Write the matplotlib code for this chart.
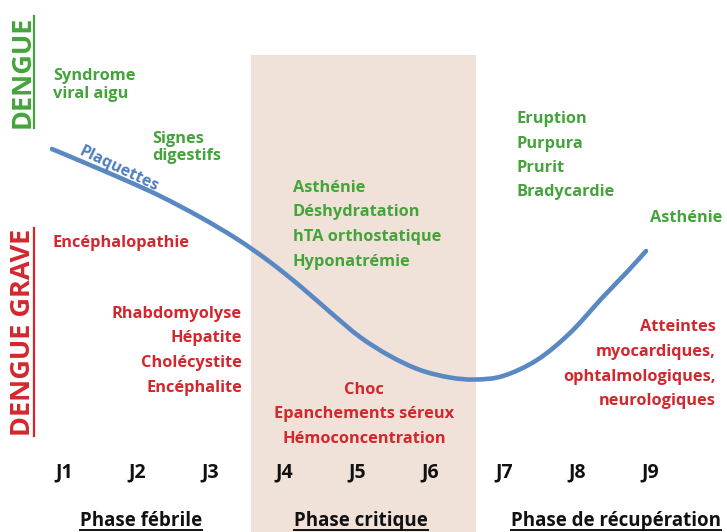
import matplotlib
matplotlib.use("Agg")
import matplotlib.pyplot as plt
from matplotlib.patches import Rectangle, PathPatch
from matplotlib.path import Path

# ---------------- data ----------------
# platelet curve (day, relative level)
days = [0.836, 1.355, 1.832, 2.310, 2.855, 3.360, 3.810, 4.220, 4.629, 5.038,
        5.448, 5.857, 6.266, 6.607, 6.989, 7.453, 7.903, 8.353, 8.681, 8.940]
platelets = [383, 367, 352, 336, 315, 293, 270, 246, 220, 195,
             176, 162, 154.5, 152.5, 156, 172, 199, 235, 260, 281]

day_labels = ["J1", "J2", "J3", "J4", "J5", "J6", "J7", "J8", "J9"]
day_positions = [1, 2, 3, 4, 5, 6, 7, 8, 9]

phase_labels = ["Phase fébrile", "Phase critique", "Phase de récupération"]
phase_centers = [2.05, 5.05, 8.53]
critical_start, critical_end = 3.55, 6.62

green_lists = [
    (["Syndrome", "viral aigu"], "left"),
    (["Signes", "digestifs"], "left"),
    (["Asthénie", "Déshydratation", "hTA orthostatique", "Hyponatrémie"], "left"),
    (["Eruption", "Purpura", "Prurit", "Bradycardie"], "left"),
    (["Asthénie"], "right"),
]
red_lists = [
    (["Encéphalopathie"], "left"),
    (["Rhabdomyolyse", "Hépatite", "Cholécystite", "Encéphalite"], "right"),
    (["Choc", "Epanchements séreux", "Hémoconcentration"], "center"),
    (["Atteintes", "myocardiques,", "ophtalmologiques,", "neurologiques"], "right"),
]

# ---------------- style ----------------
GREEN = "#44a43b"
RED = "#d3272e"
BLUE = "#5a88c2"
SHADE = "#f0e2d8"
FONT = "Open Sans"

W, H = 727, 532
fig = plt.figure(figsize=(W / 100, H / 100), dpi=100)
ax = fig.add_axes([0, 0, 1, 1])
PX_PER_DAY = 73.3
X0 = 64
ax.set_xlim(1 - X0 / PX_PER_DAY, 1 + (W - X0) / PX_PER_DAY)
ax.set_ylim(0, H)
ax.axis("off")


def X(px):
    return 1 + (px - X0) / PX_PER_DAY


def Y(py):
    return H - py


# shaded critical phase
ax.add_patch(Rectangle((critical_start, 0), critical_end - critical_start, Y(55),
                       facecolor=SHADE, edgecolor="none", zorder=0))

# platelet curve: smooth path (Catmull-Rom as cubic Bezier) through the points
verts = [(days[0], platelets[0])]
codes = [Path.MOVETO]
n = len(days)
for i in range(n - 1):
    p0 = (days[max(i - 1, 0)], platelets[max(i - 1, 0)])
    p1 = (days[i], platelets[i])
    p2 = (days[i + 1], platelets[i + 1])
    p3 = (days[min(i + 2, n - 1)], platelets[min(i + 2, n - 1)])
    c1 = (p1[0] + (p2[0] - p0[0]) / 6, p1[1] + (p2[1] - p0[1]) / 6)
    c2 = (p2[0] - (p3[0] - p1[0]) / 6, p2[1] - (p3[1] - p1[1]) / 6)
    verts += [c1, c2, p2]
    codes += [Path.CURVE4] * 3
ax.add_patch(PathPatch(Path(verts, codes), facecolor="none", edgecolor=BLUE,
                       lw=3.3, capstyle="round", joinstyle="round", zorder=3))

ax.text(X(119), Y(169), "Plaquettes", color="#4f7fbf", fontsize=11.5,
        fontweight="bold", family=FONT, rotation=-25.5, ha="center", va="center",
        rotation_mode="anchor", zorder=4)

# text blocks (anchor x px, first baseline py, step)
green_pos = [(53, 80, 17.5), (152, 143, 17.5), (293, 192, 24.5), (517, 123, 24.5),
             (722, 222, 24.5)]
red_pos = [(53, 247, 24.5), (242, 318, 24.5), (364, 394, 24.5), (716, 331, 24.8)]

FS = 11.8
for (lines, ha), (px, py, step) in zip(green_lists, green_pos):
    for i, s in enumerate(lines):
        ax.text(X(px), Y(py + i * step), s, color=GREEN, fontsize=FS,
                fontweight="bold", family=FONT, ha=ha, va="baseline")
for (lines, ha), (px, py, step) in zip(red_lists, red_pos):
    for i, s in enumerate(lines):
        ax.text(X(px), Y(py + i * step), s, color=RED, fontsize=FS,
                fontweight="bold", family=FONT, ha=ha, va="baseline")

# day labels
for d, lab in zip(day_positions, day_labels):
    ax.text(d, Y(477), lab, color="#111111", fontsize=14, fontweight="bold",
            family=FONT, ha="center", va="baseline")

# phase labels
phase_texts = []
for c, lab in zip(phase_centers, phase_labels):
    t = ax.text(c, Y(526), lab, color="#111111", fontsize=13.5, fontweight="bold",
                family=FONT, ha="center", va="baseline")
    phase_texts.append(t)

# vertical titles
t_d = ax.text(X(23), Y(72), "DENGUE", color=GREEN, fontsize=19.5, fontweight="bold",
              family=FONT, rotation=90, ha="center", va="center")
t_g = ax.text(X(23), Y(332), "DENGUE GRAVE", color=RED, fontsize=19.5,
              fontweight="bold", family=FONT, rotation=90, ha="center", va="center")

fig.canvas.draw()
r = fig.canvas.get_renderer()
inv = ax.transData.inverted()
for t in phase_texts:
    bb = t.get_window_extent(r)
    (x0, _), (x1, _) = inv.transform([(bb.x0, 0), (bb.x1, 0)])
    ax.plot([x0, x1], [Y(530), Y(530)], color="#111111", lw=1.4)
for t, col in [(t_d, GREEN), (t_g, RED)]:
    bb = t.get_window_extent(r)
    (_, y0), (_, y1) = inv.transform([(0, bb.y0), (0, bb.y1)])
    ax.plot([X(34.3), X(34.3)], [y0, y1], color=col, lw=1.6)

fig.savefig("out.png", dpi=100)
